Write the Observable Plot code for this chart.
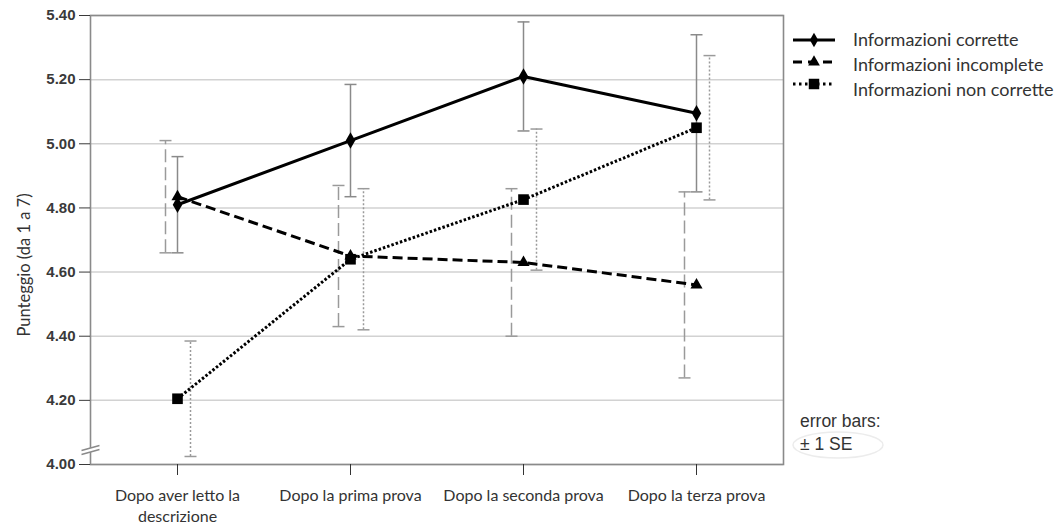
<!DOCTYPE html>
<html>
<head>
<meta charset="utf-8">
<script src="https://cdn.jsdelivr.net/npm/d3@7"></script>
<script src="https://cdn.jsdelivr.net/npm/@observablehq/plot@0.6"></script>
<style>
  body { margin: 0; background: #fff; }
  #chart { width: 1061px; height: 530px; }
</style>
</head>
<body>
<div id="chart"></div>
<script>
// Moments of measurement
const categories = [
  "Dopo aver letto la\ndescrizione",
  "Dopo la prima prova",
  "Dopo la seconda prova",
  "Dopo la terza prova"
];

// Group names
const seriesNames = ["Informazioni corrette", "Informazioni incomplete", "Informazioni non corrette"];

// Mean scores and standard errors per group
const corrette = [4.81, 5.01, 5.21, 5.095];
const corretteSE = [0.15, 0.175, 0.17, 0.245];
const incomplete = [4.835, 4.65, 4.63, 4.56];
const incompleteSE = [0.175, 0.22, 0.23, 0.29];
const nonCorrette = [4.205, 4.64, 4.826, 5.05];
const nonCorretteSE = [0.18, 0.22, 0.22, 0.225];

// Y axis ticks
const yTicks = [4.0, 4.2, 4.4, 4.6, 4.8, 5.0, 5.2, 5.4];

const means = [corrette, incomplete, nonCorrette];
const ses = [corretteSE, incompleteSE, nonCorretteSE];

// Visual style of each group: line dash, marker, error bar dash and offset
const styles = [
  {dash: null, symbol: "diamond", r: 5, barDash: null, barColor: "#8a8a8a", offset: 0},
  {dash: "10,5", symbol: "triangle", r: 4.5, barDash: "13,5", barColor: "#9a9a9a", offset: -12},
  {dash: "2.5,2", symbol: "square", r: 6, barDash: "2,2", barColor: "#9a9a9a", offset: 13}
];

const tables = seriesNames.map((name, s) =>
  categories.map((cat, i) => ({
    series: name,
    cat,
    mean: means[s][i],
    lo: means[s][i] - ses[s][i],
    hi: means[s][i] + ses[s][i]
  }))
);

// Short horizontal cap for the error bars
const capSymbol = {
  draw(context) {
    context.moveTo(-6, 0);
    context.lineTo(6, 0);
  }
};

// Axis break marker on the y axis
const breakFill = {
  draw(context) {
    context.moveTo(-9, 2);
    context.lineTo(9, -3);
    context.lineTo(9, 1);
    context.lineTo(-9, 6);
    context.closePath();
  }
};
const breakLines = {
  draw(context) {
    context.moveTo(-9, 2);
    context.lineTo(9, -3);
    context.moveTo(-9, 6);
    context.lineTo(9, 1);
  }
};

const labelFont = "Lato, 'Open Sans', sans-serif";

const marks = [
  Plot.gridY(yTicks, {stroke: "#d2d2d2", strokeOpacity: 1, strokeWidth: 1.5}),
  Plot.frame({stroke: "#8a8a8a", strokeWidth: 1.6})
];

// Error bars (behind the lines)
tables.forEach((data, s) => {
  const st = styles[s];
  marks.push(
    Plot.ruleX(data, {x: "cat", y1: "lo", y2: "hi", dx: st.offset, stroke: st.barColor, strokeWidth: 1.5, strokeDasharray: st.barDash}),
    Plot.dot(data, {x: "cat", y: "hi", dx: st.offset, symbol: capSymbol, stroke: st.barColor, strokeWidth: 1.5}),
    Plot.dot(data, {x: "cat", y: "lo", dx: st.offset, symbol: capSymbol, stroke: st.barColor, strokeWidth: 1.5})
  );
});

// Mean lines and markers
tables.forEach((data, s) => {
  const st = styles[s];
  marks.push(
    Plot.line(data, {
      x: "cat", y: "mean", stroke: "#000", strokeWidth: 3,
      strokeDasharray: st.dash, strokeLinecap: "butt", strokeLinejoin: "miter"
    })
  );
});
tables.forEach((data, s) => {
  const st = styles[s];
  marks.push(
    Plot.dot(data, {x: "cat", y: "mean", symbol: st.symbol, r: st.r, fill: "#000", stroke: "none"})
  );
});

marks.push(
  Plot.axisY(yTicks, {
    tickFormat: d3.format(".2f"), tickSize: 11, tickPadding: 4, label: null,
    fontSize: 15, fontWeight: "bold", fontFamily: "'Liberation Sans', Arial, sans-serif",
    color: "#3a3a3a"
  }),
  Plot.axisX({
    tickSize: 11, tickPadding: 11, label: null, lineHeight: 1.3,
    fontSize: 16, fontFamily: labelFont, color: "#333"
  }),
  Plot.text(["Punteggio (da 1 a 7)"], {
    frameAnchor: "left", textAnchor: "middle", rotate: -90, dx: -66, dy: 25,
    fontSize: 16.5, fontFamily: labelFont, fill: "#333"
  }),
  Plot.dot([0], {frameAnchor: "bottom-left", dy: -16, symbol: breakFill, fill: "#fff", stroke: "none"}),
  Plot.dot([0], {frameAnchor: "bottom-left", dy: -16, symbol: breakLines, stroke: "#8a8a8a", strokeWidth: 1.4})
);

const chart = Plot.plot({
  width: 1061,
  height: 530,
  marginTop: 15,
  marginBottom: 66,
  marginLeft: 90,
  marginRight: 278,
  style: {background: "#fff", overflow: "visible"},
  x: {type: "point", domain: categories, padding: 0.5},
  y: {domain: [4.0, 5.4]},
  marks
});

// Legend and error-bar note in the right margin
const svg = d3.select(chart);
const legend = svg.append("g")
  .attr("font-family", labelFont).attr("font-size", 18)
  .attr("fill", "#333").attr("text-anchor", "start");
const rowY = [40, 62, 84];
const textY = [40, 65, 90];
seriesNames.forEach((name, s) => {
  const st = styles[s];
  legend.append("line")
    .attr("x1", 793).attr("x2", 835).attr("y1", rowY[s]).attr("y2", rowY[s])
    .attr("stroke", "#000").attr("stroke-width", 3)
    .attr("stroke-dasharray", s === 0 ? null : (s === 1 ? "9,6" : "2.5,3.5"));
  const sym = {diamond: d3.symbolDiamond, triangle: d3.symbolTriangle, square: d3.symbolSquare}[st.symbol];
  legend.append("path")
    .attr("transform", `translate(814,${rowY[s]})`)
    .attr("d", d3.symbol(sym, s === 2 ? 110 : 60)())
    .attr("fill", "#000");
  legend.append("text")
    .attr("x", 853).attr("y", textY[s]).attr("dy", "0.35em")
    .text(name);
});

const note = svg.append("g")
  .attr("font-family", "'Liberation Sans', Arial, sans-serif").attr("font-size", 17.5)
  .attr("fill", "#333").attr("text-anchor", "start");
note.append("ellipse").attr("cx", 838).attr("cy", 445).attr("rx", 45).attr("ry", 13)
  .attr("fill", "none").attr("stroke", "#ececec").attr("stroke-width", 1.5);
note.append("text").attr("x", 800).attr("y", 427).text("error bars:");
note.append("text").attr("x", 800).attr("y", 450).text("\u00b1 1 SE");

document.getElementById("chart").append(chart);
</script>
</body>
</html>
